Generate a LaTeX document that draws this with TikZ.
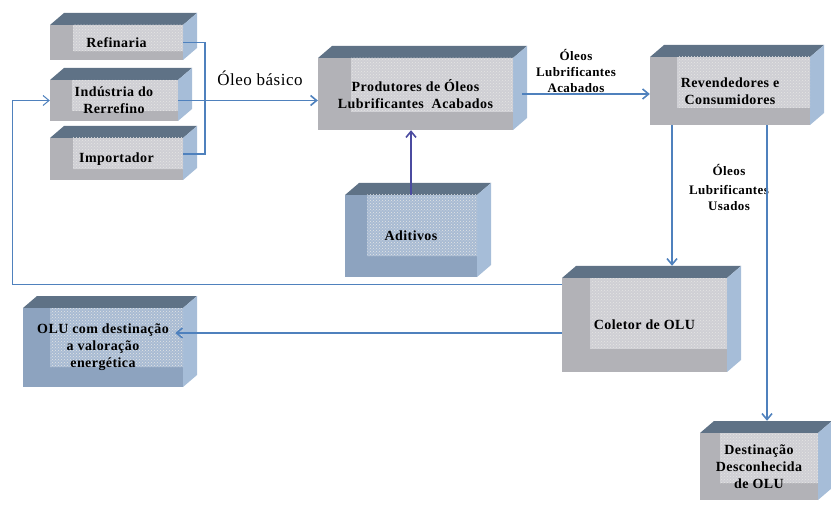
\documentclass[tikz,border=0pt]{standalone}
\usepackage{fontspec}
\setmainfont{Liberation Serif}[LetterSpace=3]
\usetikzlibrary{arrows.meta,patterns,calc}
\definecolor{cTopo}{HTML}{5F7286}
\definecolor{cLado}{HTML}{A6BDD8}
\definecolor{cFrente}{HTML}{B2B2B7}
\definecolor{cMiolo}{HTML}{CFCFD4}
\definecolor{cFrenteAzul}{HTML}{8DA3BF}
\definecolor{cMioloAzul}{HTML}{A8BBD3}
\definecolor{cLinha}{HTML}{4F81BD}
\definecolor{cRoxa}{HTML}{4B4BA0}
\tikzset{
  rotulo/.style={font=\fontsize{14}{17}\selectfont\bfseries, align=center, inner sep=0pt},
  texto/.style={font=\fontsize{13}{16}\selectfont\bfseries, align=center, inner sep=0pt},
  liga/.style={draw=cLinha, line width=1.6pt},
  seta/.style={liga, -{Straight Barb[length=6pt,width=10pt]}},
}
\newcommand{\caixa}[8]{%
  \fill[cTopo] (#2,#3) -- ++(14,-12) -- ++(#4,0) -- ++(-14,12) -- cycle;
  \fill[cLado] ({#2+#4},#3) -- ++(14,-12) -- ++(0,#5) -- ++(-14,12) -- cycle;
  \fill[#6] (#2,#3) rectangle ++(#4,#5);
  \fill[#7] ({#2+0.17*#4},#3) rectangle ({#2+#4},{#3+0.75*#5});
  \fill[pattern=crosshatch dots, pattern color=white!80!gray] ({#2+0.17*#4},#3) rectangle ({#2+#4},{#3+0.75*#5});
  \node[rotulo, minimum width=#4pt, minimum height=#5pt] (#1) at ({#2+#4/2},{#3+#5/2}) {#8};
  \coordinate (#1 fundo) at ($(#1.north west)+(14,-12)$);
}
\begin{document}
\begin{tikzpicture}[x=1pt,y=-1pt]
  \useasboundingbox (0,0) rectangle (831,508);
  \caixa{ref}{50}{25}{133}{35}{cFrente}{cMiolo}{Refinaria}
  \caixa{ind}{50}{80}{128}{41}{cFrente}{cMiolo}{Indústria do\\Rerrefino}
  \caixa{imp}{50}{138}{133}{42}{cFrente}{cMiolo}{Importador}
  \caixa{prod}{318}{58}{195}{72}{cFrente}{cMiolo}{Produtores de Óleos\\Lubrificantes~ Acabados}
  \caixa{adit}{345}{195}{132}{82}{cFrenteAzul}{cMioloAzul}{Aditivos}
  \caixa{rev}{650}{57}{160}{68}{cFrente}{cMiolo}{Revendedores e\\Consumidores}
  \caixa{col}{562}{278}{165}{94}{cFrente}{cMiolo}{Coletor de OLU}
  \caixa{olu}{23}{308}{160}{79}{cFrenteAzul}{cMioloAzul}{OLU com destinação\\a valoração\\energética}
  \caixa{dest}{700}{433}{118}{67}{cFrente}{cMiolo}{Destinação\\Desconhecida\\de OLU}
  \coordinate (esq) at (12,0);
  \node[font=\fontsize{17}{20}\selectfont, inner sep=0pt] (basico) at (260,78) {Óleo básico};
  \node[texto] (acabados) at (576,71) {Óleos\\Lubrificantes\\Acabados};
  \node[texto] (usados) at (729,187) {Óleos\\[3pt]Lubrificantes\\Usados};
  \draw[liga] (ref.east) -| ($(imp.east)+(22,-5)$) -- ($(imp.east)+(0,-5)$);
  \draw[seta] (ind.east) -- (ind.east -| prod.west);
  \draw[seta, shorten <=9pt] (prod.east) -- (prod.east -| rev.west);
  \draw[seta, draw=cRoxa] (adit.north) -- (adit.north |- prod.south);
  \draw[seta] ([xshift=-58pt]rev.south) -- ([xshift=-58pt]rev.south |- col fundo);
  \draw[seta] ([xshift=37pt]rev.south) -- ([xshift=37pt]rev.south |- dest fundo);
  \draw[seta, line width=1pt] ([yshift=-7pt]col.north west) -- ([yshift=-7pt]col.north west -| esq) |- (ind.west);
  \draw[seta, shorten >=-8pt] ([yshift=-8pt]col.west) -- ([yshift=-8pt]col.west -| olu.east);
\end{tikzpicture}
\end{document}
